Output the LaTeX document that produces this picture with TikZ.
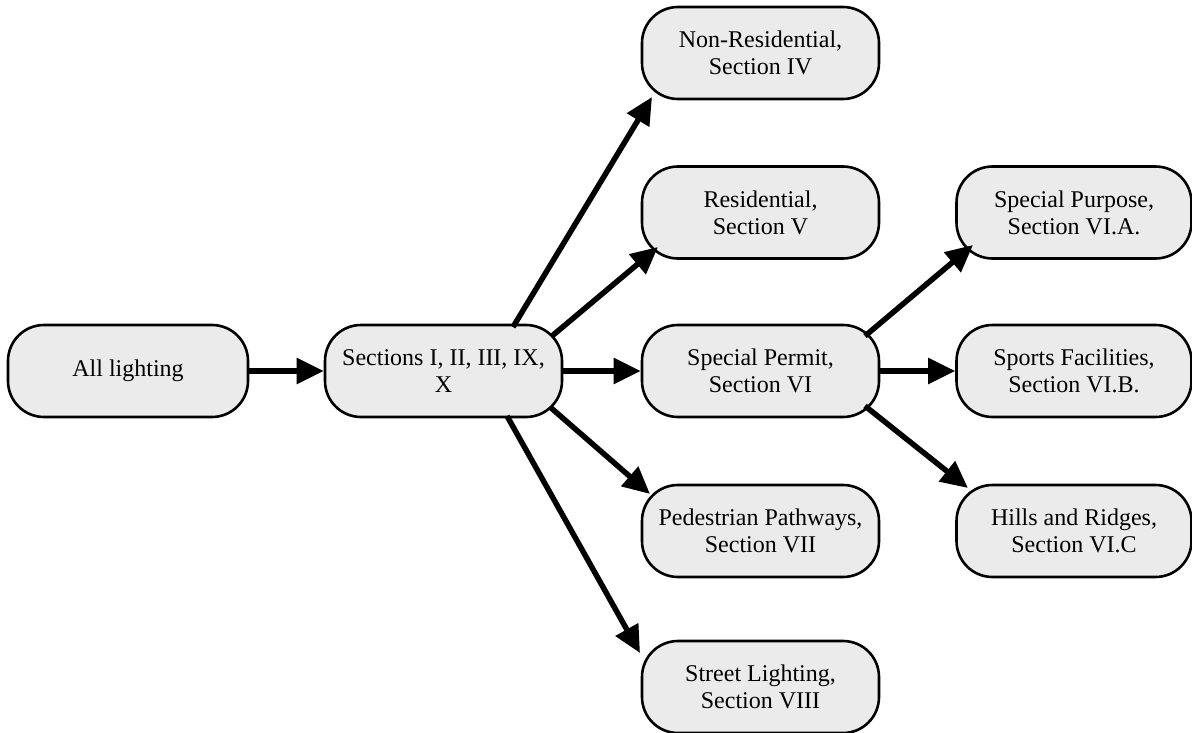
\documentclass[tikz,border=0pt]{standalone}
\usepackage{fontspec}
\setmainfont{Liberation Serif}
\usetikzlibrary{arrows.meta,calc}
\definecolor{boxfill}{HTML}{EBEBEB}
\tikzset{
  box/.style={draw=black, line width=2.6pt, fill=boxfill, rounded corners=36pt,
    minimum width=237pt, minimum height=92pt, inner sep=0pt, align=center,
    font=\fontsize{24}{27}\selectfont},
  arr/.style={line width=5.5pt, -{Triangle[length=27pt,width=25pt]}}
}
\begin{document}
\begin{tikzpicture}[x=1pt,y=-1pt]
\useasboundingbox (0,0) rectangle (1192,733);
\node[box, minimum width=240pt] (all) at (128,371) {All lighting};
\node[box] (sec) at (443.5,371) {Sections I, II, III, IX,\\X};
\node[box] (nonres) at (760.5,53) {Non-Residential,\\Section IV};
\node[box] (res) at (760.5,212.5) {Residential,\\Section V};
\node[box] (sp) at (760.5,371) {Special Permit,\\Section VI};
\node[box] (ped) at (760.5,531) {Pedestrian Pathways,\\Section VII};
\node[box] (street) at (760.5,687) {Street Lighting,\\Section VIII};
\node[box, minimum width=235pt] (spurp) at (1074,212.5) {Special Purpose,\\Section VI.A.};
\node[box, minimum width=235pt] (sports) at (1074,371) {Sports Facilities,\\Section VI.B.};
\node[box, minimum width=235pt] (hills) at (1074,531) {Hills and Ridges,\\Section VI.C};

\draw[arr] (all.east) -- (sec.west);
\draw[arr] ($(sec.center)+(69.5,-44)$) -- ($(nonres.center)+(-108.5,44)$);
\draw[arr] ($(sec.center)+(108.5,-35)$) -- ($(res.center)+(-102.5,34.5)$);
\draw[arr] (sec.east) -- (sp.west);
\draw[arr] ($(sec.center)+(106.5,36)$) -- ($(ped.center)+(-110.5,-37)$);
\draw[arr] ($(sec.center)+(63.5,45)$) -- ($(street.center)+(-120.5,-34)$);
\draw[arr] ($(sp.center)+(104.5,-35)$) -- ($(spurp.center)+(-101,32.5)$);
\draw[arr] (sp.east) -- (sports.west);
\draw[arr] ($(sp.center)+(104.5,35)$) -- ($(hills.center)+(-106,-43)$);
\end{tikzpicture}
\end{document}
